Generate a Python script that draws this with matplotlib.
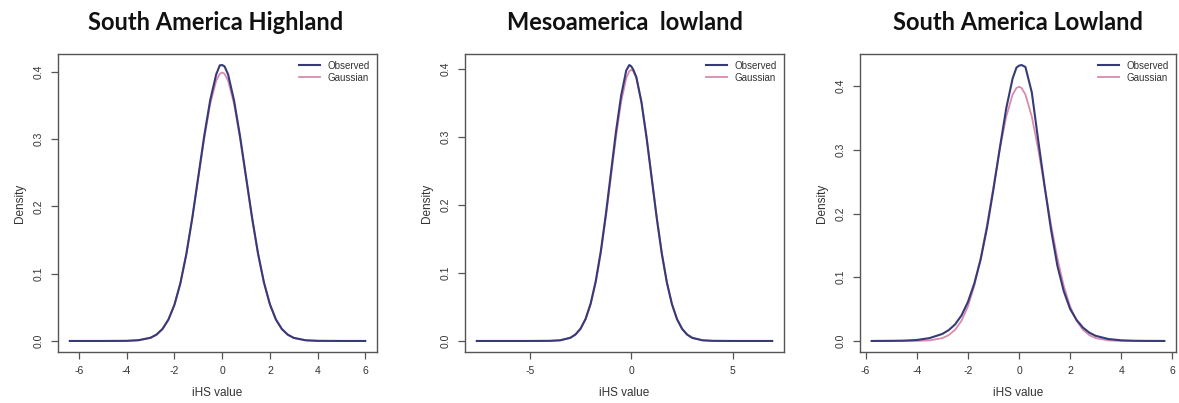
import matplotlib
matplotlib.use("Agg")
import matplotlib.pyplot as plt

# ---- data -------------------------------------------------------------
titles = ["South America Highland", "Mesoamerica  lowland", "South America Lowland"]

# South America Highland
x_sah = [-6.38, -5.0, -4.0, -3.5, -3.0, -2.75, -2.5, -2.25, -2.0, -1.75, -1.5, -1.25,
         -1.0, -0.75, -0.5, -0.25, -0.1, 0.0, 0.1, 0.25, 0.5, 0.75, 1.0, 1.25, 1.5,
         1.75, 2.0, 2.25, 2.5, 2.75, 3.0, 3.5, 4.0, 5.0, 5.99]
obs_sah = [0.0, 0.0, 0.0002, 0.0012, 0.0048, 0.0095, 0.0178, 0.0318, 0.0535, 0.0855,
           0.1290, 0.1830, 0.2440, 0.3050, 0.3580, 0.3960, 0.4095, 0.4100, 0.4080,
           0.3960, 0.3570, 0.3040, 0.2440, 0.1840, 0.1305, 0.0870, 0.0545, 0.0320,
           0.0178, 0.0093, 0.0046, 0.0010, 0.0002, 0.0, 0.0]
gau_sah = [0.0, 0.0, 0.0001, 0.0009, 0.0044, 0.0091, 0.0175, 0.0317, 0.0540, 0.0863,
           0.1295, 0.1826, 0.2420, 0.3011, 0.3521, 0.3867, 0.3970, 0.3989, 0.3970,
           0.3867, 0.3521, 0.3011, 0.2420, 0.1826, 0.1295, 0.0863, 0.0540, 0.0317,
           0.0175, 0.0091, 0.0044, 0.0009, 0.0001, 0.0, 0.0]

# Mesoamerica lowland
x_mel = [-7.6, -5.0, -4.0, -3.5, -3.0, -2.75, -2.5, -2.25, -2.0, -1.75, -1.5, -1.25,
         -1.0, -0.75, -0.5, -0.25, -0.1, 0.0, 0.1, 0.25, 0.5, 0.75, 1.0, 1.25, 1.5,
         1.75, 2.0, 2.25, 2.5, 2.75, 3.0, 3.5, 4.0, 5.0, 6.93]
obs_mel = [0.0, 0.0, 0.0002, 0.0010, 0.0047, 0.0095, 0.0180, 0.0325, 0.0550, 0.0880,
           0.1320, 0.1870, 0.2480, 0.3090, 0.3610, 0.3980, 0.4060, 0.4040, 0.3990,
           0.3880, 0.3510, 0.2990, 0.2400, 0.1810, 0.1285, 0.0858, 0.0540, 0.0320,
           0.0178, 0.0093, 0.0046, 0.0010, 0.0002, 0.0, 0.0]
gau_mel = gau_sah

# South America Lowland
x_sal = [-5.76, -5.0, -4.5, -4.0, -3.5, -3.0, -2.75, -2.5, -2.25, -2.0, -1.75, -1.5,
         -1.25, -1.0, -0.75, -0.5, -0.25, -0.1, 0.0, 0.1, 0.25, 0.5, 0.75, 1.0, 1.25,
         1.5, 1.75, 2.0, 2.25, 2.5, 2.75, 3.0, 3.5, 4.0, 4.5, 5.0, 5.68]
obs_sal = [0.0, 0.0002, 0.0005, 0.0015, 0.0045, 0.0110, 0.0170, 0.0260, 0.0400, 0.0610,
           0.0900, 0.1280, 0.1780, 0.2380, 0.3030, 0.3650, 0.4120, 0.4290, 0.4320,
           0.4330, 0.4300, 0.3900, 0.3150, 0.2430, 0.1750, 0.1180, 0.0780, 0.0500,
           0.0330, 0.0210, 0.0130, 0.0080, 0.0030, 0.0010, 0.0003, 0.0001, 0.0]
gau_sal = [0.0, 0.0, 0.0, 0.0001, 0.0009, 0.0044, 0.0091, 0.0175, 0.0317, 0.0540,
           0.0863, 0.1295, 0.1826, 0.2420, 0.3011, 0.3521, 0.3867, 0.3970, 0.3989,
           0.3970, 0.3867, 0.3521, 0.3011, 0.2420, 0.1826, 0.1295, 0.0863, 0.0540,
           0.0317, 0.0175, 0.0091, 0.0044, 0.0009, 0.0001, 0.0, 0.0, 0.0]

xticks = [[-6, -4, -2, 0, 2, 4, 6], [-5, 0, 5], [-6, -4, -2, 0, 2, 4, 6]]
yticks = [0.0, 0.1, 0.2, 0.3, 0.4]

# ---- styling ----------------------------------------------------------
W, H = 1179, 403
OBS_COLOR = "#363a78"
GAU_COLOR = "#d98aae"
AX_COLOR = "#555555"
plt.rcParams["font.family"] = ["Liberation Sans", "DejaVu Sans"]

fig = plt.figure(figsize=(W / 100, H / 100), dpi=100)
fig.patch.set_facecolor("white")

# axes boxes in pixels: (left, right, top, bottom)
boxes = [(58, 377, 54, 352), (465, 784, 54, 352), (860, 1176, 54, 352)]
title_x = [216, 625, 1018]

series = [(x_sah, obs_sah, gau_sah), (x_mel, obs_mel, gau_mel), (x_sal, obs_sal, gau_sal)]


def r_limits(vals):
    lo, hi = min(vals), max(vals)
    pad = 0.04 * (hi - lo)
    return lo - pad, hi + pad


for i, ((l, r, t, b), (xs, obs, gau)) in enumerate(zip(boxes, series)):
    ax = fig.add_axes([l / W, 1 - b / H, (r - l) / W, (b - t) / H])
    ax.plot(xs, gau, color=GAU_COLOR, lw=1.3, label="Gaussian", zorder=2)
    ax.plot(xs, obs, color=OBS_COLOR, lw=1.5, label="Observed", zorder=3)
    ax.set_xlim(*r_limits(xs))
    ax.set_ylim(*r_limits([0.0] + obs + gau))
    ax.set_xticks(xticks[i])
    ax.set_yticks(yticks)
    ax.set_xticklabels([str(v) for v in xticks[i]])
    ax.set_yticklabels([f"{v:.1f}" for v in yticks], rotation=90, va="center")
    for s in ax.spines.values():
        s.set_color(AX_COLOR)
        s.set_linewidth(1.0)
    ax.tick_params(direction="out", length=5, width=0.9, color=AX_COLOR,
                   labelsize=7.5, labelcolor="#333333", pad=5)
    ax.set_xlabel("iHS value", fontsize=8.5, color="#333333", labelpad=8)
    ax.set_ylabel("Density", fontsize=8.5, color="#333333", labelpad=6)
    handles, labels = ax.get_legend_handles_labels()
    leg = ax.legend(handles[::-1], labels[::-1], loc="upper right", frameon=False,
                    fontsize=7, handlelength=2.2, handletextpad=0.8,
                    labelspacing=0.2, borderaxespad=0.3)
    for txt in leg.get_texts():
        txt.set_color("#333333")
    fig.text(title_x[i] / W, 1 - 23 / H, titles[i], ha="center", va="center",
             fontsize=17, fontweight="bold", family=["Lato", "DejaVu Sans"],
             color="#111111")

fig.savefig("out.png", dpi=100, facecolor="white")
